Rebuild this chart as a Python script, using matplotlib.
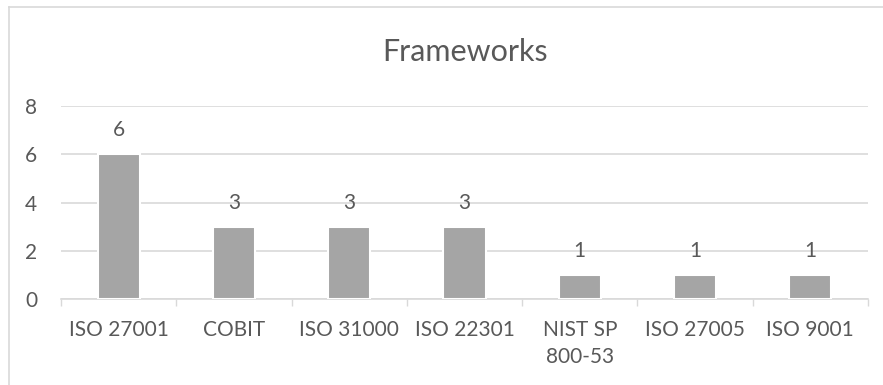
import matplotlib
matplotlib.use("Agg")
import matplotlib.pyplot as plt
import numpy as np

categories = ["ISO 27001", "COBIT", "ISO 31000", "ISO 22301", "NIST SP\n800-53", "ISO 27005", "ISO 9001"]
counts = [6, 3, 3, 3, 1, 1, 1]
y_ticks = [0, 2, 4, 6, 8]
title = "Frameworks"

text_color = "#595959"
grid_color = "#D9D9D9"
bar_color = "#A5A5A5"
font = ["Lato", "DejaVu Sans"]

fig = plt.figure(figsize=(8.83, 3.85), dpi=100)
ax = fig.add_axes([61 / 883, 1 - 299 / 385, (868 - 61) / 883, (299 - 106) / 385])

x = np.arange(len(categories))
bars = ax.bar(x, counts, width=0.365, color=bar_color, edgecolor="white", linewidth=1.5, zorder=3)

for xi, v in zip(x, counts):
    ax.annotate(str(v), (xi, v), xytext=(0, 10), textcoords="offset points",
                ha="center", va="bottom", fontsize=15, color=text_color, family=font, zorder=4)

ax.set_xlim(-0.5, len(categories) - 0.5)
ax.set_ylim(0, 8)
ax.set_yticks(y_ticks)
ax.set_yticklabels([str(t) for t in y_ticks], fontsize=15, color=text_color, family=font)
ax.tick_params(axis="y", length=0, pad=17)

ax.set_xticks(x)
ax.set_xticklabels(categories, fontsize=15, color=text_color, family=font, linespacing=1.45)
ax.tick_params(axis="x", which="major", length=0, pad=15)
ax.set_xticks(np.arange(len(categories) + 1) - 0.5, minor=True)
ax.tick_params(axis="x", which="minor", length=5, width=1, color=grid_color)

ax.yaxis.grid(True, color=grid_color, linewidth=1.2, zorder=0)
ax.set_axisbelow(True)
for side in ["top", "right", "left"]:
    ax.spines[side].set_visible(False)
ax.spines["bottom"].set_color(grid_color)
ax.spines["bottom"].set_linewidth(1.2)
ax.spines["bottom"].set_zorder(2)

fig.text(465 / 883, 1 - 52 / 385, title, ha="center", va="center",
         fontsize=22, color=text_color, family=font)

# chart area border
fig.add_artist(plt.Line2D([9 / 883, 9 / 883], [0, 1 - 7 / 385], transform=fig.transFigure,
                          color=grid_color, linewidth=1.2))
fig.add_artist(plt.Line2D([9 / 883, 1], [1 - 7 / 385, 1 - 7 / 385], transform=fig.transFigure,
                          color=grid_color, linewidth=1.2))

fig.savefig("out.png", dpi=100)
